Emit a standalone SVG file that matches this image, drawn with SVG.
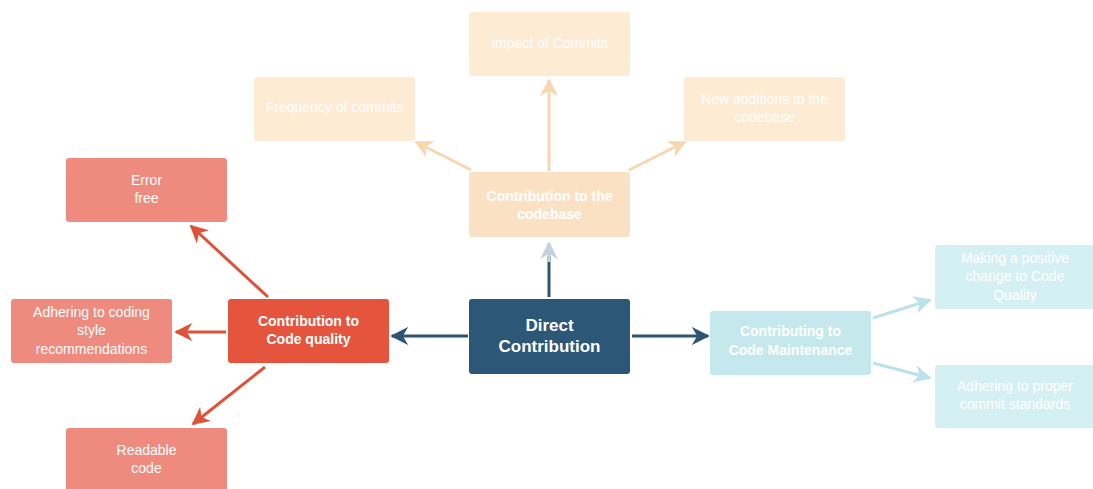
<svg xmlns="http://www.w3.org/2000/svg" width="1093" height="489" viewBox="0 0 1093 489">
<defs>
<style>
text{font-family:"Liberation Sans",Arial,sans-serif;fill:#fff;text-anchor:middle}
.t{font-size:14px}
.b{font-size:14px;font-weight:bold}
.bb{font-size:17px;font-weight:bold}
.o1{fill:#fdebd4}
.o2{fill:#fbe1c3}
.r1{fill:#ef8b7e}
.r2{fill:#e5553d}
.c1{fill:#d5f0f2}
.c2{fill:#c4e8eb}
.d{fill:#2c5777}
.lo{stroke:#f8d6b0;stroke-width:3;fill:none}
.lr{stroke:#df5139;stroke-width:3;fill:none}
.ld{stroke:#2d5473;stroke-width:3;fill:none}
.lc{stroke:#b9e3e8;stroke-width:3;fill:none}
</style>
<marker id="ao" viewBox="0 0 10 10" refX="9" refY="5" markerWidth="6" markerHeight="6" orient="auto"><path d="M0,0 L10,5 L0,10 L3,5 z" fill="#f8d6b0"/></marker>
<marker id="ar" viewBox="0 0 10 10" refX="9" refY="5" markerWidth="6" markerHeight="6" orient="auto"><path d="M0,0 L10,5 L0,10 L3,5 z" fill="#df5139"/></marker>
<marker id="ad" viewBox="0 0 10 10" refX="9" refY="5" markerWidth="6" markerHeight="6" orient="auto"><path d="M0,0 L10,5 L0,10 L3,5 z" fill="#2d5473"/></marker>
<marker id="al" viewBox="0 0 10 10" refX="9" refY="5" markerWidth="6" markerHeight="6" orient="auto"><path d="M0,0 L10,5 L0,10 L3,5 z" fill="#c3d2dd"/></marker>
<marker id="ac" viewBox="0 0 10 10" refX="9" refY="5" markerWidth="6" markerHeight="6" orient="auto"><path d="M0,0 L10,5 L0,10 L3,5 z" fill="#b9e3e8"/></marker>
</defs>
<rect width="1093" height="489" fill="#fff"/>
<g id="connectors">
<line class="ld" x1="468" y1="336" x2="392" y2="336" marker-end="url(#ad)"/>
<line class="ld" x1="632" y1="336" x2="708" y2="336" marker-end="url(#ad)"/>
<line class="ld" x1="549" y1="297" x2="549" y2="256"/>
<line x1="549" y1="262" x2="549" y2="243" stroke="#c3d2dd" stroke-width="3" marker-end="url(#al)"/>
<line class="lo" x1="549" y1="171" x2="549" y2="80" marker-end="url(#ao)"/>
<line class="lo" x1="471" y1="170" x2="416" y2="142" marker-end="url(#ao)"/>
<line class="lo" x1="629" y1="170" x2="685" y2="142" marker-end="url(#ao)"/>
<line class="lr" x1="268" y1="297" x2="191" y2="226" marker-end="url(#ar)"/>
<line class="lr" x1="226" y1="332" x2="176" y2="332" marker-end="url(#ar)"/>
<line class="lr" x1="265" y1="367" x2="193" y2="424" marker-end="url(#ar)"/>
<line class="lc" x1="873" y1="318" x2="930" y2="300" marker-end="url(#ac)"/>
<line class="lc" x1="873" y1="363" x2="930" y2="378" marker-end="url(#ac)"/>
</g>
<g id="impact"><rect class="o1" x="469" y="12" width="161" height="64" rx="3"/><text class="t" x="549.5" y="48">Impact of Commits</text></g>
<g id="frequency"><rect class="o1" x="254" y="77" width="161" height="64" rx="3"/><text class="t" x="334.5" y="112">Frequency of commits</text></g>
<g id="additions"><rect class="o1" x="684" y="77" width="161" height="64" rx="3"/><text class="t" x="764.5" y="104">New additions to the</text><text class="t" x="764.5" y="122">codebase</text></g>
<g id="codebase"><rect class="o2" x="469" y="172" width="161" height="65" rx="3"/><text class="b" x="549.5" y="201">Contribution to the</text><text class="b" x="549.5" y="219">codebase</text></g>
<g id="direct"><rect class="d" x="469" y="299" width="161" height="75" rx="3"/><text class="bb" x="549.5" y="331">Direct</text><text class="bb" x="549.5" y="352">Contribution</text></g>
<g id="quality"><rect class="r2" x="228" y="299" width="161" height="64" rx="3"/><text class="b" x="308.5" y="326">Contribution to</text><text class="b" x="308.5" y="344">Code quality</text></g>
<g id="error"><rect class="r1" x="66" y="158" width="161" height="64" rx="3"/><text class="t" x="146.5" y="185">Error</text><text class="t" x="146.5" y="203">free</text></g>
<g id="style"><rect class="r1" x="11" y="299" width="161" height="64" rx="3"/><text class="t" x="91.5" y="317">Adhering to coding</text><text class="t" x="91.5" y="335">style</text><text class="t" x="91.5" y="354">recommendations</text></g>
<g id="readable"><rect class="r1" x="66" y="428" width="161" height="66" rx="3"/><text class="t" x="146.5" y="455">Readable</text><text class="t" x="146.5" y="473">code</text></g>
<g id="maintenance"><rect class="c2" x="710" y="311" width="161" height="64" rx="3"/><text class="b" x="790.5" y="336">Contributing to</text><text class="b" x="790.5" y="355">Code Maintenance</text></g>
<g id="positive"><rect class="c1" x="935" y="245" width="161" height="64" rx="3"/><text class="t" x="1015" y="263">Making a positive</text><text class="t" x="1015" y="281">change to Code</text><text class="t" x="1015" y="300">Quality</text></g>
<g id="standards"><rect class="c1" x="935" y="365" width="161" height="63" rx="3"/><text class="t" x="1015" y="391">Adhering to proper</text><text class="t" x="1015" y="409">commit standards</text></g>
</svg>
